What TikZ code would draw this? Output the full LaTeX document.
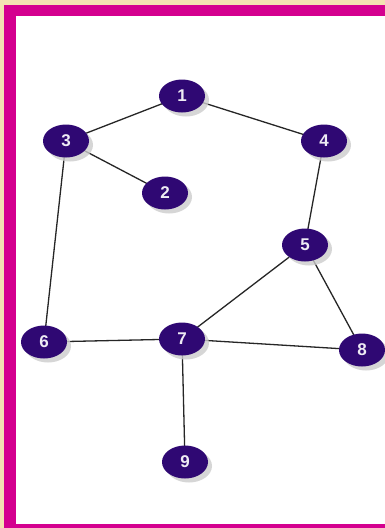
\documentclass[tikz,border=0pt]{standalone}
\usepackage{fontspec}
\setsansfont{Liberation Sans}
\usetikzlibrary{shapes.geometric,shadows}
\definecolor{tanbg}{HTML}{F3E2B2}
\definecolor{framemag}{HTML}{D4008F}
\definecolor{vtxpurple}{HTML}{2F0873}
\pgfdeclarelayer{frame}
\pgfdeclarelayer{edges}
\pgfsetlayers{frame,edges,main}

\begin{document}
\begin{tikzpicture}[x=1pt, y=-1pt,
  vertex/.style={ellipse, fill=vtxpurple, minimum width=46pt, minimum height=33pt,
    inner sep=0pt, text=white!92!vtxpurple, font=\sffamily\bfseries\fontsize{17}{17}\selectfont,
    drop shadow={shadow xshift=4pt, shadow yshift=-4pt, fill=gray!40, opacity=0.8}},
  edge/.style={draw=black!85, line width=1.3pt}]
  \useasboundingbox (0,0) rectangle (385,528);
  % frame
  \begin{pgfonlayer}{frame}
    \fill[tanbg] (0,0) rectangle (385,528);
    \fill[framemag] (4,5) rectangle (385,528);
    \fill[white] (16,16) rectangle (385,524);
  \end{pgfonlayer}
  % vertices
  \node[vertex] (n1) at (182,96) {1};
  \node[vertex] (n3) at (66,141) {3};
  \node[vertex] (n4) at (324,141) {4};
  \node[vertex] (n2) at (165,193) {2};
  \node[vertex] (n5) at (305,245) {5};
  \node[vertex] (n6) at (44,342) {6};
  \node[vertex] (n7) at (182,339) {7};
  \node[vertex] (n8) at (362,350) {8};
  \node[vertex] (n9) at (185,462) {9};
  % edges
  \begin{pgfonlayer}{edges}
    \foreach \a/\b in {n1/n3, n1/n4, n3/n2, n3/n6, n4/n5, n5/n7, n5/n8, n6/n7, n7/n8, n7/n9}
      \draw[edge] (\a.center) -- (\b.center);
  \end{pgfonlayer}
\end{tikzpicture}
\end{document}
